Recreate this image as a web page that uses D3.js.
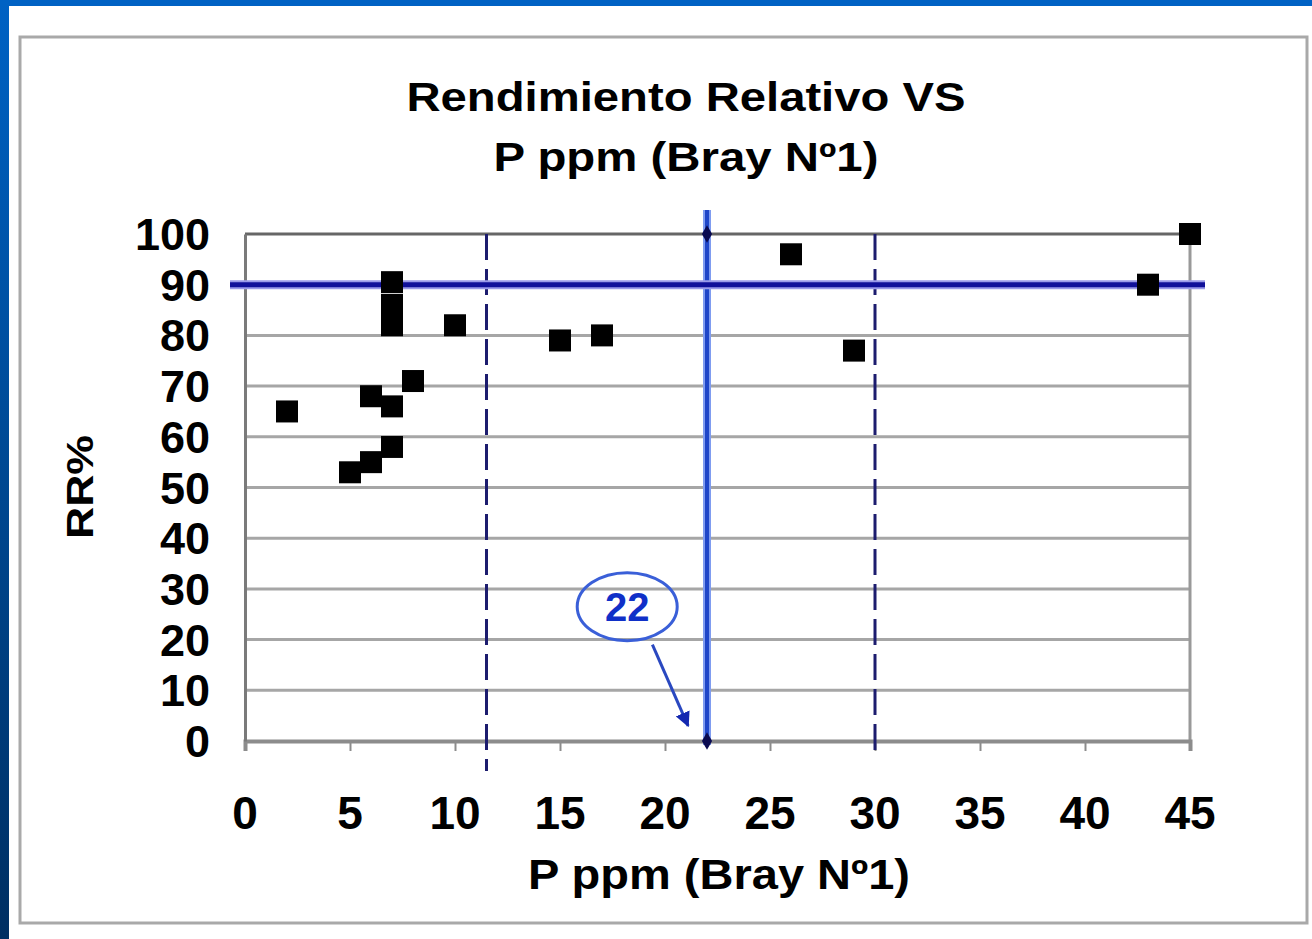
<!DOCTYPE html>
<html>
<head>
<meta charset="utf-8">
<script src="https://cdn.jsdelivr.net/npm/d3@7"></script>
<style>
  body { margin: 0; background: #ffffff; }
  svg { display: block; }
  text { font-family: "Liberation Sans", Arial, sans-serif; font-weight: bold; fill: #000; }
</style>
</head>
<body>
<div id="chart"></div>
<script>
// data
let p_ppm = [2, 5, 6, 7, 6, 7, 8, 7, 7, 7, 10, 15, 17, 26, 29, 43, 45];
let rr_pct = [65, 53, 55, 58, 68, 66, 71, 82, 86, 90.5, 82, 79, 80, 96, 77, 90, 100];

let x_ticks = [0, 5, 10, 15, 20, 25, 30, 35, 40, 45];
let y_ticks = [0, 10, 20, 30, 40, 50, 60, 70, 80, 90, 100];

let critical_ranges = [11.5, 30];   // dashed verticals
let critical_p = 22;                // solid blue vertical
let critical_rr = 90;               // solid blue horizontal
let note_label = "22";

let title_lines = ["Rendimiento Relativo VS", "P ppm (Bray Nº1)"];
let x_title = "P ppm (Bray Nº1)";
let y_title = "RR%";

let width = 1312;
let height = 939;

let svg = d3.select("#chart").append("svg")
    .attr("width", width)
    .attr("height", height);

// blue slide frame
let defs = svg.append("defs");
let grad = defs.append("linearGradient")
    .attr("id", "frame_grad")
    .attr("x1", 0).attr("y1", 0).attr("x2", 0).attr("y2", 1);
grad.append("stop").attr("offset", "0%").attr("stop-color", "#0062c4");
grad.append("stop").attr("offset", "100%").attr("stop-color", "#002f62");

defs.append("marker")
    .attr("id", "arrow")
    .attr("viewBox", "0 0 10 10")
    .attr("refX", 9).attr("refY", 5)
    .attr("markerWidth", 5).attr("markerHeight", 5)
    .attr("orient", "auto")
    .append("path")
    .attr("d", "M0,0 L10,5 L0,10 z")
    .style("fill", "#1428b0");

svg.append("rect").attr("x", 0).attr("y", 0).attr("width", 9).attr("height", height).style("fill", "url(#frame_grad)");
svg.append("rect").attr("x", 0).attr("y", 0).attr("width", width).attr("height", 6).style("fill", "#0062c4");

// chart panel border
svg.append("rect")
    .attr("x", 20).attr("y", 37)
    .attr("width", 1287).attr("height", 886)
    .style("fill", "#fff")
    .style("stroke", "#a9a9a9")
    .style("stroke-width", 3);

let x = d3.scaleLinear().domain([0, 45]).range([245, 1190]);
let y = d3.scaleLinear().domain([0, 100]).range([741, 234]);

// horizontal gridlines
svg.selectAll(".grid")
    .data(y_ticks.filter(d => d > 0 && d < 100))
    .enter()
    .append("line")
    .classed("grid", true)
    .attr("x1", x(0)).attr("x2", x(45))
    .attr("y1", d => y(d)).attr("y2", d => y(d))
    .style("stroke", "#a6a6a6")
    .style("stroke-width", 3);

// plot frame: top + right
svg.append("line")
    .attr("x1", x(0)).attr("x2", x(45)).attr("y1", y(100)).attr("y2", y(100))
    .style("stroke", "#666").style("stroke-width", 3);
svg.append("line")
    .attr("x1", x(45)).attr("x2", x(45)).attr("y1", y(100)).attr("y2", y(0))
    .style("stroke", "#999").style("stroke-width", 3);

// axes
let x_axis = svg.append("g")
    .attr("transform", "translate(0," + y(0) + ")")
    .call(d3.axisBottom(x).tickValues(x_ticks).tickSize(10).tickFormat(""));
x_axis.select(".domain").style("stroke", "#8c8c8c").style("stroke-width", 4);
x_axis.selectAll(".tick line").style("stroke", "#8c8c8c").style("stroke-width", 2);

let y_axis = svg.append("g")
    .attr("transform", "translate(" + x(0) + ",0)")
    .call(d3.axisLeft(y).tickValues(y_ticks).tickSize(0).tickFormat(""));
y_axis.select(".domain").style("stroke", "#7a7a7a").style("stroke-width", 3);

// tick labels
svg.selectAll(".xlab")
    .data(x_ticks)
    .enter()
    .append("text")
    .classed("xlab", true)
    .attr("x", d => x(d))
    .attr("y", 829)
    .attr("text-anchor", "middle")
    .style("font-size", "46px")
    .text(d => d);

svg.selectAll(".ylab")
    .data(y_ticks)
    .enter()
    .append("text")
    .classed("ylab", true)
    .attr("x", 210)
    .attr("y", d => y(d) + 16)
    .attr("text-anchor", "end")
    .style("font-size", "45px")
    .text(d => d);

// titles (widths matched to the picture)
let title_widths = [559, 385];
svg.selectAll(".title")
    .data(title_lines)
    .enter()
    .append("text")
    .classed("title", true)
    .attr("x", 686)
    .attr("y", (d, i) => 111 + i * 60)
    .attr("text-anchor", "middle")
    .attr("textLength", (d, i) => title_widths[i])
    .attr("lengthAdjust", "spacingAndGlyphs")
    .style("font-size", "41px")
    .text(d => d);

svg.append("text")
    .attr("x", 719).attr("y", 889)
    .attr("text-anchor", "middle")
    .attr("textLength", 382)
    .attr("lengthAdjust", "spacingAndGlyphs")
    .style("font-size", "42px")
    .text(x_title);

svg.append("text")
    .attr("transform", "translate(93,487) rotate(-90)")
    .attr("text-anchor", "middle")
    .attr("textLength", 104)
    .attr("lengthAdjust", "spacingAndGlyphs")
    .style("font-size", "36px")
    .text(y_title);

// dashed critical lines
svg.selectAll(".crit")
    .data(critical_ranges)
    .enter()
    .append("line")
    .classed("crit", true)
    .attr("x1", d => x(d)).attr("x2", d => x(d))
    .attr("y1", y(100)).attr("y2", (d, i) => i == 0 ? y(0) + 30 : y(0) + 10)
    .style("stroke", "#1c1c6e")
    .style("stroke-width", 3)
    .style("stroke-dasharray", "26,9");

// blue threshold lines
svg.append("line")
    .attr("x1", x(critical_p)).attr("x2", x(critical_p))
    .attr("y1", y(100) - 24).attr("y2", y(0) + 4)
    .style("stroke", "#7f9cf0").style("stroke-width", 8);
svg.append("line")
    .attr("x1", x(critical_p)).attr("x2", x(critical_p))
    .attr("y1", y(100) - 24).attr("y2", y(0) + 4)
    .style("stroke", "#1f46c8").style("stroke-width", 4);

svg.append("line")
    .attr("x1", x(0) - 15).attr("x2", x(45) + 15)
    .attr("y1", y(critical_rr)).attr("y2", y(critical_rr))
    .style("stroke", "#9a9ae8").style("stroke-width", 9);
svg.append("line")
    .attr("x1", x(0) - 15).attr("x2", x(45) + 15)
    .attr("y1", y(critical_rr)).attr("y2", y(critical_rr))
    .style("stroke", "#10109a").style("stroke-width", 5);

// small markers at the ends of the blue vertical
svg.selectAll(".diam")
    .data([100, 0])
    .enter()
    .append("path")
    .classed("diam", true)
    .attr("d", d3.symbol().type(d3.symbolDiamond).size(90))
    .attr("transform", d => "translate(" + x(critical_p) + "," + y(d) + ")")
    .style("fill", "#0a0a50");

// data points
let pts = p_ppm.map((d, i) => ({p: d, rr: rr_pct[i]}));
svg.selectAll(".pt")
    .data(pts)
    .enter()
    .append("rect")
    .classed("pt", true)
    .attr("x", d => x(d.p) - 11)
    .attr("y", d => y(d.rr) - 11)
    .attr("width", 22)
    .attr("height", 22)
    .style("fill", "#000");

// hand drawn "22" note with arrow
svg.append("ellipse")
    .attr("cx", x(18.2)).attr("cy", y(26.5))
    .attr("rx", 50).attr("ry", 34)
    .style("fill", "none")
    .style("stroke", "#3a5fd8")
    .style("stroke-width", 3);
svg.append("text")
    .attr("x", x(18.2)).attr("y", y(26.5) + 14)
    .attr("text-anchor", "middle")
    .style("font-size", "40px")
    .style("fill", "#1030c8")
    .text(note_label);
svg.append("line")
    .attr("x1", x(19.4)).attr("y1", y(19))
    .attr("x2", x(21.1)).attr("y2", y(3))
    .attr("marker-end", "url(#arrow)")
    .style("stroke", "#2a48c0")
    .style("stroke-width", 3);
</script>
</body>
</html>
